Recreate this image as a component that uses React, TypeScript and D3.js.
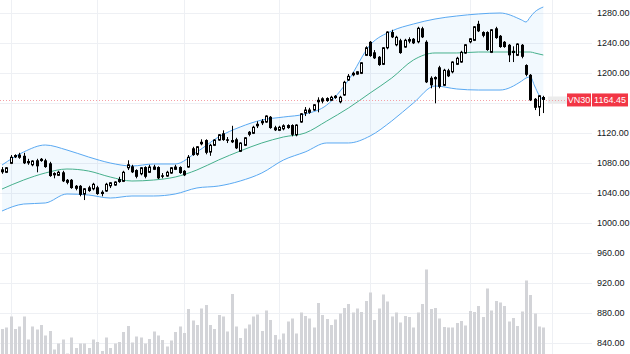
import React from 'react';
import * as d3 from 'd3';

const W = 630;
const H = 354;

const openP = [
  1072, 1068, 1080, 1091, 1088, 1090, 1083, 1078, 1084, 1086,
  1084, 1080, 1067, 1064, 1068, 1058, 1058, 1050, 1050, 1039,
  1048, 1046, 1048, 1042, 1043, 1050, 1051, 1059, 1056, 1074,
  1076, 1071, 1066, 1075, 1068, 1072, 1075, 1064, 1063, 1067,
  1072, 1075, 1070, 1075, 1100, 1092, 1106, 1111, 1095, 1104,
  1111, 1120, 1112, 1111, 1112, 1096, 1104, 1122, 1120, 1130,
  1134, 1135, 1142, 1128, 1124, 1126, 1131, 1131, 1118, 1135,
  1147, 1148, 1151, 1162, 1163, 1167, 1164, 1170, 1162, 1171,
  1191, 1198, 1199, 1200, 1224, 1242, 1228, 1222, 1212, 1234,
  1255, 1238, 1244, 1235, 1243, 1246, 1242, 1260, 1242, 1194,
  1195, 1208, 1184, 1204, 1202, 1212, 1215, 1227, 1242, 1244,
  1266, 1255, 1255, 1228, 1260, 1250, 1242, 1238, 1230, 1224,
  1238, 1211, 1198, 1166, 1155, 1168.4,
];
const highP = [
  1075, 1075, 1091, 1092, 1094, 1094, 1086, 1084, 1086, 1087,
  1086, 1082, 1068, 1070, 1070, 1059, 1059, 1051, 1051, 1047,
  1050, 1054, 1050, 1044, 1054, 1055, 1056, 1062, 1070, 1084,
  1078, 1072, 1075, 1076, 1078, 1078, 1076, 1067, 1070, 1075,
  1078, 1076, 1071, 1091, 1102, 1103, 1112, 1112, 1106, 1112,
  1119, 1124, 1115, 1130, 1114, 1108, 1115, 1123, 1130, 1136,
  1139, 1144, 1143, 1130, 1130, 1132, 1132, 1132, 1132, 1147,
  1155, 1154, 1159, 1168, 1168, 1168, 1170, 1171, 1170, 1190,
  1199, 1202, 1203, 1215, 1236, 1243, 1231, 1223, 1235, 1256,
  1258, 1250, 1246, 1246, 1248, 1247, 1262, 1262, 1244, 1196,
  1196, 1210, 1206, 1206, 1216, 1222, 1230, 1239, 1247, 1263,
  1270, 1256, 1256, 1259, 1262, 1251, 1243, 1239, 1236, 1240,
  1239, 1212, 1199, 1167, 1171, 1170,
];
const lowP = [
  1066, 1067, 1079, 1087, 1086, 1079, 1078, 1076, 1068, 1082,
  1074, 1062, 1060, 1063, 1055, 1052, 1046, 1044, 1036, 1031,
  1042, 1044, 1038, 1036, 1042, 1047, 1050, 1054, 1055, 1071,
  1067, 1060, 1064, 1060, 1067, 1071, 1059, 1060, 1062, 1066,
  1071, 1066, 1063, 1074, 1090, 1090, 1104, 1092, 1090, 1103,
  1110, 1110, 1107, 1107, 1099, 1095, 1103, 1116, 1119, 1127,
  1131, 1134, 1126, 1123, 1123, 1124, 1126, 1116, 1116, 1134,
  1143, 1146, 1150, 1148, 1160, 1162, 1163, 1166, 1160, 1170,
  1190, 1196, 1198, 1199, 1223, 1222, 1219, 1210, 1211, 1232,
  1247, 1236, 1226, 1234, 1240, 1239, 1240, 1247, 1187, 1180,
  1160, 1180, 1183, 1195, 1200, 1211, 1214, 1226, 1240, 1243,
  1255, 1248, 1230, 1227, 1246, 1234, 1234, 1215, 1215, 1223,
  1220, 1196, 1163, 1151, 1143, 1147,
];
const closeP = [
  1068, 1074, 1088, 1088, 1091, 1080, 1080, 1083, 1076, 1083,
  1075, 1063, 1064, 1068, 1056, 1054, 1047, 1046, 1038, 1046,
  1043, 1052, 1039, 1039, 1052, 1054, 1055, 1055, 1068, 1078,
  1068, 1062, 1074, 1062, 1075, 1075, 1060, 1062, 1068, 1074,
  1075, 1067, 1064, 1088, 1091, 1102, 1108, 1094, 1104, 1111,
  1118, 1111, 1110, 1108, 1100, 1107, 1114, 1118, 1128, 1132,
  1136, 1143, 1127, 1124, 1128, 1130, 1127, 1118, 1131, 1146,
  1151, 1151, 1158, 1164, 1166, 1163, 1168, 1167, 1168, 1188,
  1196, 1200, 1202, 1214, 1234, 1223, 1220, 1211, 1234, 1255,
  1248, 1248, 1227, 1244, 1245, 1240, 1260, 1248, 1188, 1184,
  1192, 1182, 1204, 1196, 1215, 1220, 1228, 1238, 1246, 1262,
  1256, 1250, 1231, 1258, 1247, 1235, 1235, 1224, 1227, 1239,
  1222, 1198, 1164, 1154, 1170, 1164.45,
];
const volume = [
  62, 65, 87, 62, 67, 87, 41, 67, 61, 70,
  49, 58, 21, 33, 41, 13, 45, 24, 33, 33,
  24, 41, 36, 18, 45, 24, 33, 36, 56, 68,
  35, 47, 45, 33, 42, 57, 49, 40, 27, 39,
  56, 67, 54, 102, 79, 70, 103, 110, 70, 62,
  90, 87, 57, 132, 67, 44, 63, 71, 87, 91,
  58, 99, 80, 50, 41, 53, 77, 83, 53, 95,
  88, 83, 65, 114, 90, 82, 70, 81, 93, 104,
  112, 95, 103, 96, 118, 135, 80, 103, 131, 117,
  87, 95, 75, 88, 86, 65, 95, 112, 181, 102,
  104, 83, 66, 65, 65, 74, 78, 69, 98, 96,
  108, 86, 143, 99, 118, 115, 108, 77, 84, 68,
  97, 159, 130, 93, 67, 65,
];

const bandIdx = [0, 5, 10, 15, 20, 25, 30, 35, 40, 45, 50, 55, 60, 65, 70, 75, 80, 85, 90, 95, 100, 105, 110, 115, 120, 121, 122, 123, 124, 125];
const bandUpper = [1077.7, 1095.1, 1104.4, 1097.7, 1088.4, 1080.4, 1076.4, 1079.1, 1079.1, 1095.1, 1115.1, 1128.4, 1137.7, 1141.7, 1145.7, 1157.7, 1191.0, 1237.7, 1256.4, 1265.7, 1272.4, 1276.4, 1279.1, 1280.4, 1271.1, 1268.4, 1275.1, 1281.7, 1285.7, 1288.4];
const bandMiddle = [1045.7, 1057.7, 1067.1, 1072.4, 1069.7, 1061.7, 1056.4, 1057.7, 1061.7, 1071.1, 1084.4, 1096.4, 1107.1, 1115.1, 1120.4, 1136.4, 1153.7, 1173.7, 1193.7, 1217.7, 1227.1, 1227.1, 1228.4, 1228.4, 1228.4, 1228.4, 1228.4, 1227.1, 1225.7, 1224.4];
const bandLower = [1016.4, 1025.7, 1027.1, 1039.1, 1037.7, 1033.7, 1036.4, 1036.4, 1039.1, 1047.1, 1049.7, 1056.4, 1067.1, 1084.4, 1095.1, 1107.1, 1107.1, 1116.4, 1136.4, 1160.4, 1183.1, 1179.1, 1177.7, 1177.7, 1189.7, 1193.7, 1195.1, 1183.1, 1171.1, 1164.4];

const priceTicks = [840, 880, 920, 960, 1000, 1040, 1080, 1120, 1160, 1200, 1240, 1280];
const timeGridIdx = [2, 22, 42, 64, 85, 108, 127];
const symbol = 'VN30';
const lastPrice = 1164.45;

export default function App() {
  const n = closeP.length;
  const x = d3.scaleLinear().domain([0, n - 1]).range([2, 543.3]);
  const y = d3.scaleLinear().domain([840, 1280]).range([343.3, 13.3]);
  const vy = d3.scaleLinear().domain([0, 200]).range([360, 260]);
  const plotRight = 592;

  const bands = bandIdx.map((idx, k) => ({ idx, u: bandUpper[k], m: bandMiddle[k], l: bandLower[k] }));
  const area = d3.area<any>().x(d => x(d.idx)).y0(d => y(d.l)).y1(d => y(d.u)).curve(d3.curveMonotoneX);
  const mk = (key: string) => d3.line<any>().x(d => x(d.idx)).y(d => y(d[key])).curve(d3.curveMonotoneX)(bands) || '';

  const font = '"Liberation Sans", Arial, sans-serif';
  const ly = y(lastPrice);

  return (
    <svg width={W} height={H} style={{ position: 'absolute', left: 0, top: 0, background: '#fff' }}>
      <rect x={0} y={0} width={W} height={H} fill="#fff" />
      {priceTicks.map(t => (
        <line key={'hg' + t} x1={0} x2={plotRight} y1={Math.round(y(t)) + 0.5} y2={Math.round(y(t)) + 0.5} stroke="#eef0f4" strokeWidth={1} />
      ))}
      {timeGridIdx.map(i => (
        <line key={'vg' + i} x1={Math.round(x(i)) + 0.5} x2={Math.round(x(i)) + 0.5} y1={0} y2={H} stroke="#eef0f4" strokeWidth={1} />
      ))}
      {volume.map((v, i) => (
        <rect key={'v' + i} x={Math.round(x(i)) - 1} y={vy(v)} width={3} height={H - vy(v)} fill="#d3d4d8" />
      ))}
      <path d={area(bands) || ''} fill="rgba(33,150,243,0.06)" />
      <path d={mk('u')} fill="none" stroke="#5aa9f2" strokeWidth={1} />
      <path d={mk('l')} fill="none" stroke="#5aa9f2" strokeWidth={1} />
      <path d={mk('m')} fill="none" stroke="#46b08c" strokeWidth={1} />
      <rect x={548} y={ly - 3.5} width={19} height={7} fill="#ececec" />
      <line x1={0} x2={567} y1={Math.round(ly) + 0.5} y2={Math.round(ly) + 0.5} stroke="#f4a0a6" strokeWidth={1} strokeDasharray="1 2" />
      {closeP.map((c, i) => {
        const o = openP[i];
        const up = c >= o;
        const cx = Math.round(x(i)) + 0.5;
        const top = y(Math.max(o, c));
        const bot = y(Math.min(o, c));
        const hgt = Math.max(1, bot - top);
        return (
          <g key={'c' + i}>
            <line x1={cx} x2={cx} y1={y(highP[i])} y2={y(lowP[i])} stroke="#000" strokeWidth={1} />
            {up ? (
              <rect x={cx - 1} y={top} width={2} height={Math.max(1, hgt)} fill="#fff" stroke="#000" strokeWidth={1} />
            ) : (
              <rect x={cx - 1.5} y={top} width={3} height={hgt} fill="#000" />
            )}
          </g>
        );
      })}
      {priceTicks.filter(t => t !== 1160).map(t => (
        <text key={'t' + t} x={597} y={y(t)} dy="0.35em" fontFamily={font} fontSize={9} fill="#131722">
          {t.toFixed(2)}
        </text>
      ))}
      <rect x={567} y={ly - 6.5} width={24} height={13} fill="#f23645" />
      <rect x={592} y={ly - 6.5} width={36} height={13} fill="#f23645" />
      <text x={579} y={ly} dy="0.35em" textAnchor="middle" fontFamily={font} fontSize={9} fill="#fff">{symbol}</text>
      <text x={610} y={ly} dy="0.35em" textAnchor="middle" fontFamily={font} fontSize={9} fill="#fff">{lastPrice.toFixed(2)}</text>
    </svg>
  );
}
